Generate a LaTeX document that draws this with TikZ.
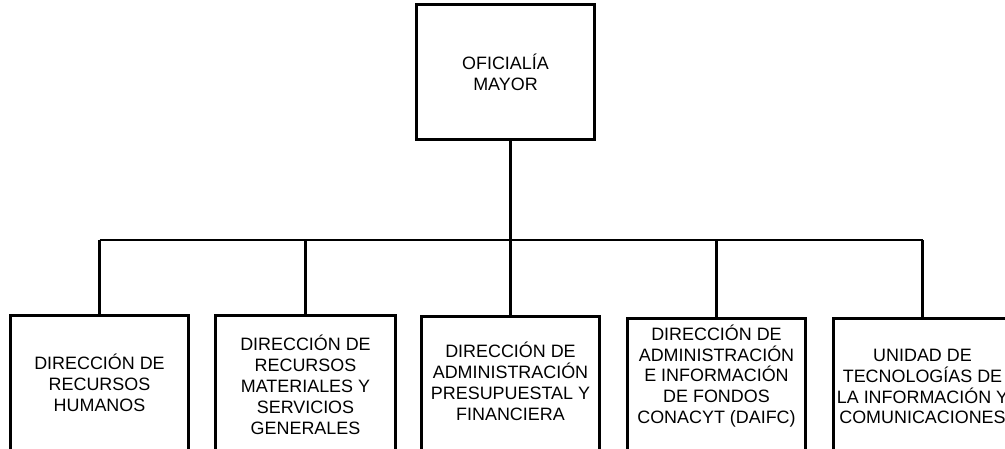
\documentclass[tikz,border=0pt]{standalone}
\usepackage{fontspec}
\setmainfont{Liberation Sans}
\begin{document}
\begin{tikzpicture}[x=0.02cm, y=-0.02cm,
        caja/.style={draw=black, line width=1.7pt, minimum width=3.58cm, inner sep=0pt,
            align=center, font=\fontsize{10.2}{11.9}\selectfont},
        texto/.style={align=center, inner sep=0pt, font=\fontsize{10.2}{11.9}\selectfont},
        linea/.style={black, line width=1.5pt}]

        \useasboundingbox (0,0) rectangle (1005,449);
        \clip (0,0) rectangle (1005,449);

        \node[caja, minimum height=2.72cm] (ofm) at (505.5,72) {OFICIALÍA\\MAYOR};

        % direcciones (cortadas por el borde inferior)
        \node[caja, anchor=north, minimum height=3.2cm] (rh) at (99.5,314) {};
        \node[caja, anchor=north, minimum height=3.2cm, minimum width=3.62cm] (rm) at (305.5,314) {};
        \node[caja, anchor=north, minimum height=3.2cm] (ap) at (510.5,315) {};
        \node[caja, anchor=north, minimum height=3.2cm] (fc) at (716.5,317) {};
        \node[caja, anchor=north, minimum height=3.2cm] (ti) at (922.5,317) {};

        \node[texto] (rhtxt) at (99.5,383) {DIRECCIÓN DE\\RECURSOS\\HUMANOS};
        \node[texto] (rmtxt) at (305.5,385) {DIRECCIÓN DE\\RECURSOS\\MATERIALES Y\\SERVICIOS\\GENERALES};
        \node[texto] (aptxt) at (510.5,381) {DIRECCIÓN DE\\ADMINISTRACIÓN\\PRESUPUESTAL Y\\FINANCIERA};
        \node[texto] (fctxt) at (716.5,376) {DIRECCIÓN DE\\ADMINISTRACIÓN\\E INFORMACIÓN\\DE FONDOS\\CONACYT (DAIFC)};
        \node[texto] (titxt) at (922.5,386.5) {UNIDAD DE\\TECNOLOGÍAS DE\\LA INFORMACIÓN Y\\COMUNICACIONES};

        \coordinate (bus) at (0,240);

        \draw[linea] (ofm.south -| ap.north) -- (ap.north);
        \draw[linea] (rh.north |- bus) -- (ti.north |- bus);
        \foreach \n in {rh,rm,fc,ti}
            \draw[linea] (\n.north |- bus) -- (\n.north);

\end{tikzpicture}
\end{document}
